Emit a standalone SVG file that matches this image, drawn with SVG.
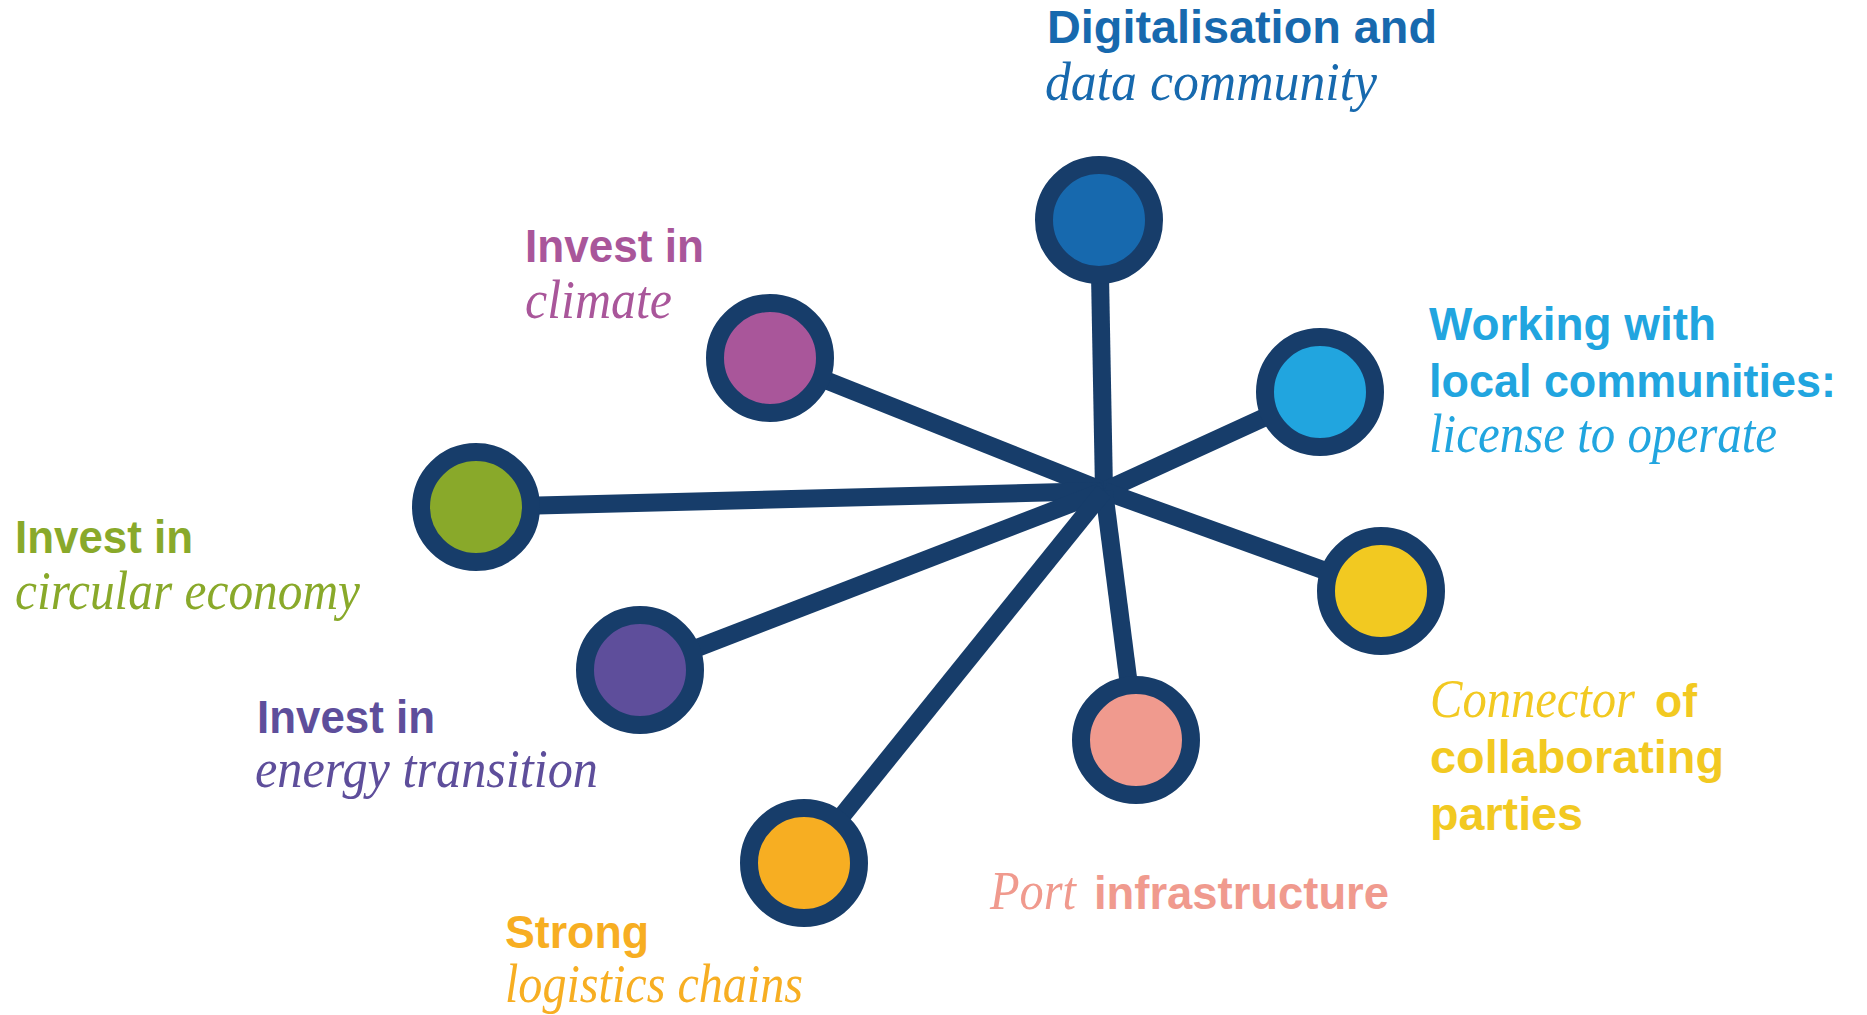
<svg xmlns="http://www.w3.org/2000/svg" width="1867" height="1015" viewBox="0 0 1867 1015">
<style>
.b{font-family:"Liberation Sans","Noto Sans",sans-serif;font-weight:700;font-size:46px}
.i{font-family:"Liberation Serif","DejaVu Serif",serif;font-style:italic;font-size:54px}
.ring{stroke:#173d6a;stroke-width:18}
.link{stroke:#173d6a;stroke-width:18;stroke-linecap:butt;fill:none}
</style>
<rect width="1867" height="1015" fill="#ffffff"/>
<g id="connectors">
<line class="link" x1="1099" y1="220" x2="1104" y2="491"/>
<line class="link" x1="770" y1="358" x2="1104" y2="491"/>
<line class="link" x1="1320" y1="392" x2="1104" y2="491"/>
<line class="link" x1="476" y1="507" x2="1104" y2="491"/>
<line class="link" x1="1381" y1="591" x2="1104" y2="491"/>
<line class="link" x1="640" y1="670" x2="1104" y2="491"/>
<line class="link" x1="1136" y1="740" x2="1104" y2="491"/>
<line class="link" x1="804" y1="863" x2="1104" y2="491"/>
</g>
<g id="node-digitalisation">
<circle class="ring" cx="1099" cy="220" r="55" fill="#1769ae"/>
<text class="b" x="1047" y="43" fill="#1769ae" textLength="390" lengthAdjust="spacingAndGlyphs">Digitalisation and</text>
<text class="i" x="1045" y="100" fill="#1769ae" textLength="332" lengthAdjust="spacingAndGlyphs">data community</text>
</g>
<g id="node-climate">
<circle class="ring" cx="770" cy="358" r="55" fill="#a9569a"/>
<text class="b" x="525" y="262" fill="#a9569a" textLength="179" lengthAdjust="spacingAndGlyphs">Invest in</text>
<text class="i" x="525" y="318" fill="#a9569a" textLength="147" lengthAdjust="spacingAndGlyphs">climate</text>
</g>
<g id="node-local">
<circle class="ring" cx="1320" cy="392" r="55" fill="#21a5df"/>
<text class="b" x="1429" y="340" fill="#21a5df" textLength="287" lengthAdjust="spacingAndGlyphs">Working with</text>
<text class="b" x="1429" y="397" fill="#21a5df" textLength="407" lengthAdjust="spacingAndGlyphs">local communities:</text>
<text class="i" x="1429" y="452" fill="#21a5df" textLength="348" lengthAdjust="spacingAndGlyphs">license to operate</text>
</g>
<g id="node-circular">
<circle class="ring" cx="476" cy="507" r="55" fill="#89a92a"/>
<text class="b" x="15" y="553" fill="#89a92a" textLength="178" lengthAdjust="spacingAndGlyphs">Invest in</text>
<text class="i" x="15" y="609" fill="#89a92a" textLength="345" lengthAdjust="spacingAndGlyphs">circular economy</text>
</g>
<g id="node-connector">
<circle class="ring" cx="1381" cy="591" r="55" fill="#f2c921"/>
<text class="i" x="1430" y="717" fill="#f2c921" textLength="205" lengthAdjust="spacingAndGlyphs">Connector</text>
<text class="b" x="1655" y="717" fill="#f2c921" textLength="42" lengthAdjust="spacingAndGlyphs">of</text>
<text class="b" x="1430" y="773" fill="#f2c921" textLength="294" lengthAdjust="spacingAndGlyphs">collaborating</text>
<text class="b" x="1430" y="830" fill="#f2c921" textLength="153" lengthAdjust="spacingAndGlyphs">parties</text>
</g>
<g id="node-energy">
<circle class="ring" cx="640" cy="670" r="55" fill="#5e4e9b"/>
<text class="b" x="257" y="733" fill="#5e4e9b" textLength="178" lengthAdjust="spacingAndGlyphs">Invest in</text>
<text class="i" x="255" y="787" fill="#5e4e9b" textLength="343" lengthAdjust="spacingAndGlyphs">energy transition</text>
</g>
<g id="node-port">
<circle class="ring" cx="1136" cy="740" r="55" fill="#f09a8e"/>
<text class="i" x="990" y="909" fill="#f09a8e" textLength="86" lengthAdjust="spacingAndGlyphs">Port</text>
<text class="b" x="1094" y="909" fill="#f09a8e" textLength="295" lengthAdjust="spacingAndGlyphs">infrastructure</text>
</g>
<g id="node-logistics">
<circle class="ring" cx="804" cy="863" r="55" fill="#f7ae22"/>
<text class="b" x="505" y="948" fill="#f7ae22" textLength="144" lengthAdjust="spacingAndGlyphs">Strong</text>
<text class="i" x="505" y="1002" fill="#f7ae22" textLength="298" lengthAdjust="spacingAndGlyphs">logistics chains</text>
</g>
</svg>
